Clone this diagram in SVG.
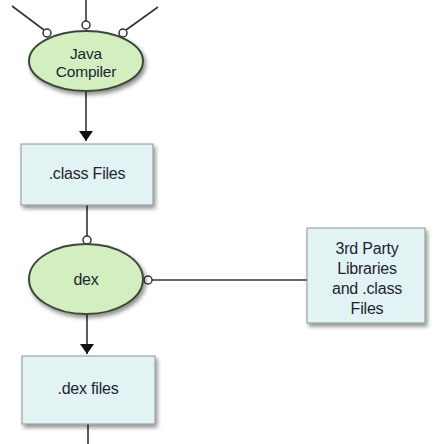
<svg xmlns="http://www.w3.org/2000/svg" width="433" height="444" viewBox="0 0 433 444">
<style>
.proc{fill:#d3efbf;stroke:#3b4a38;stroke-width:2}
.box{fill:#e1f3f3;stroke:#8d9595;stroke-width:1}
.lbl{font-family:"Liberation Sans",Arial,sans-serif;font-size:16px;fill:#1f2530;text-anchor:middle;letter-spacing:-0.2px}
.sm{font-size:15.5px}
.edge{stroke:#333;stroke-width:1.6;fill:none}
.port{fill:#fff;stroke:#333;stroke-width:1.5}
</style>
<defs>
<filter id="sh" x="-10%" y="-10%" width="130%" height="140%">
<feGaussianBlur in="SourceAlpha" stdDeviation="2"/>
<feOffset dx="2" dy="3" result="b"/>
<feComponentTransfer><feFuncA type="linear" slope="0.45"/></feComponentTransfer>
<feMerge><feMergeNode/><feMergeNode in="SourceGraphic"/></feMerge>
</filter>
<marker id="arr" viewBox="0 0 10 14" refX="10" refY="7" markerWidth="10" markerHeight="14" markerUnits="userSpaceOnUse" orient="auto">
<path d="M0,0 L10,7 L0,14 z" fill="#111"/>
</marker>
</defs>
<g id="connectors">
<line class="edge" x1="12" y1="6" x2="44" y2="30"/>
<line class="edge" x1="86" y1="0" x2="86" y2="21"/>
<line class="edge" x1="158" y1="7" x2="126" y2="30"/>
<line class="edge" x1="86" y1="91" x2="86" y2="141" marker-end="url(#arr)"/>
<line class="edge" x1="87" y1="205" x2="87" y2="236"/>
<line class="edge" x1="152" y1="280" x2="307" y2="280"/>
<line class="edge" x1="87" y1="314" x2="87" y2="354" marker-end="url(#arr)"/>
<line class="edge" x1="88" y1="424" x2="88" y2="444"/>
<circle class="port" cx="47" cy="33" r="4"/>
<circle class="port" cx="86" cy="25" r="4"/>
<circle class="port" cx="123" cy="33" r="4"/>
<circle class="port" cx="87" cy="240" r="4"/>
<circle class="port" cx="148" cy="280" r="4"/>
</g>
<g id="java-compiler">
<ellipse class="proc" cx="86" cy="61" rx="57" ry="30" filter="url(#sh)"/>
<text class="lbl sm" x="86" y="59">Java</text>
<text class="lbl sm" x="86" y="77">Compiler</text>
</g>
<g id="class-files">
<rect class="box" x="21" y="144" width="132" height="61" filter="url(#sh)"/>
<text class="lbl" x="87" y="179">.class Files</text>
</g>
<g id="dex">
<ellipse class="proc" cx="86" cy="279" rx="57" ry="35" filter="url(#sh)"/>
<text class="lbl" x="86" y="285">dex</text>
</g>
<g id="third-party">
<rect class="box" x="307" y="228" width="118" height="95" filter="url(#sh)"/>
<text class="lbl" x="367" y="254">3rd Party</text>
<text class="lbl" x="367" y="274">Libraries</text>
<text class="lbl" x="367" y="294">and .class</text>
<text class="lbl" x="367" y="314">Files</text>
</g>
<g id="dex-files">
<rect class="box" x="22" y="356" width="133" height="68" filter="url(#sh)"/>
<text class="lbl" x="88" y="394">.dex files</text>
</g>
</svg>
